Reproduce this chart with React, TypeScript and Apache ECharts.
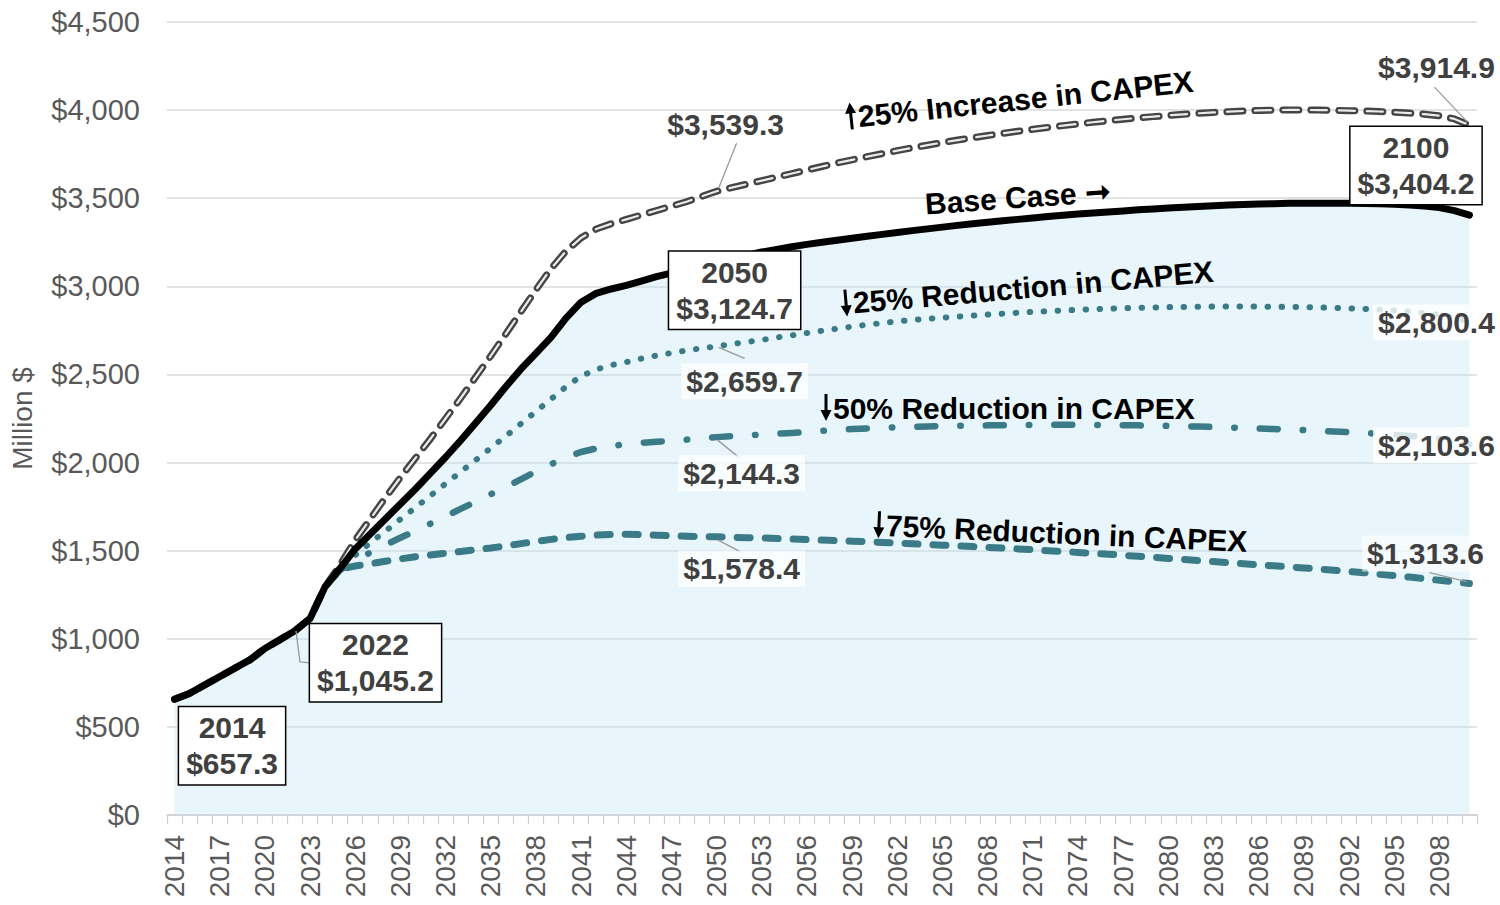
import React, { useEffect, useRef } from "react";
import * as echarts from "echarts";

const years: string[] = [];
for (let y = 2014; y <= 2100; y++) years.push(String(y));

// Base Case (Million $)
const baseCase = [
  657.3, 690, 738, 785, 833, 880, 945, 995, 1045.2, 1115,
  1295, 1400, 1510, 1595, 1680, 1765, 1850, 1940, 2030, 2125,
  2225, 2325, 2430, 2530, 2620, 2710, 2820, 2910, 2960, 2985,
  3005, 3030, 3055, 3075, 3093, 3110, 3124.7, 3150, 3175, 3195,
  3210, 3225, 3238, 3250, 3262, 3273, 3284, 3295, 3306, 3316,
  3326, 3336, 3346, 3355, 3364, 3372, 3380, 3388, 3396, 3403,
  3410, 3416, 3422, 3428, 3434, 3439, 3444, 3449, 3453, 3457,
  3461, 3464, 3467, 3469, 3471, 3472, 3472, 3472, 3471, 3470,
  3468, 3466, 3462, 3456, 3447, 3430, 3404.2,
];

// 25% Increase in CAPEX
const increase25 = [
  657.3, 690, 738, 785, 833, 880, 945, 995, 1045.2, 1115,
  1295, 1420, 1560, 1680, 1800, 1915, 2025, 2135, 2250, 2365,
  2485, 2605, 2730, 2855, 2980, 3100, 3200, 3275, 3325, 3355,
  3380, 3405, 3430, 3455, 3480, 3510, 3539.3, 3560, 3580, 3600,
  3620, 3640, 3660, 3680, 3700, 3718, 3736, 3753, 3770, 3786,
  3801, 3816, 3830, 3843, 3856, 3868, 3880, 3891, 3902, 3912,
  3922, 3931, 3940, 3948, 3956, 3963, 3970, 3976, 3982, 3987,
  3991, 3995, 3998, 4000, 4001, 4001, 4000, 3999, 3997, 3995,
  3992, 3988, 3983, 3977, 3968, 3950, 3914.9,
];

// 25% Reduction in CAPEX
const reduction25 = [
  657.3, 690, 738, 785, 833, 880, 945, 995, 1045.2, 1115,
  1295, 1405, 1475, 1545, 1610, 1678, 1745, 1812, 1880, 1947,
  2014, 2082, 2150, 2220, 2290, 2360, 2430, 2490, 2528, 2553,
  2570, 2590, 2607, 2622, 2636, 2648, 2659.7, 2672, 2684, 2696,
  2710, 2722, 2735, 2748, 2760, 2771, 2782, 2792, 2801, 2809,
  2816, 2822, 2828, 2834, 2840, 2845, 2850, 2855, 2859, 2863,
  2867, 2870, 2873, 2876, 2878, 2880, 2882, 2883, 2884, 2885,
  2885, 2885, 2885, 2884, 2883, 2882, 2880, 2878, 2875, 2872,
  2868, 2863, 2857, 2849, 2838, 2822, 2800.4,
];

// 50% Reduction in CAPEX
const reduction50 = [
  657.3, 690, 738, 785, 833, 880, 945, 995, 1045.2, 1115,
  1295, 1390, 1445, 1490, 1532, 1573, 1613, 1653, 1695, 1737,
  1778, 1820, 1860, 1905, 1950, 1990, 2030, 2060, 2080, 2094,
  2104, 2112, 2118, 2123, 2130, 2137, 2144.3, 2150, 2155, 2158,
  2163, 2168, 2174, 2180, 2185, 2190, 2194, 2197, 2200, 2203,
  2205, 2207, 2209, 2210, 2211, 2212, 2213, 2214, 2214, 2214,
  2214, 2214, 2213, 2212, 2211, 2210, 2208, 2206, 2204, 2202,
  2199, 2196, 2193, 2190, 2187, 2184, 2180, 2176, 2172, 2168,
  2163, 2158, 2152, 2145, 2135, 2122, 2103.6,
];

// 75% Reduction in CAPEX
const reduction75 = [
  657.3, 690, 738, 785, 833, 880, 945, 995, 1045.2, 1115,
  1295, 1395, 1413, 1425, 1440, 1453, 1465, 1475, 1485, 1495,
  1505, 1515, 1527, 1540, 1552, 1564, 1574, 1582, 1588, 1592,
  1593, 1591, 1588, 1585, 1582, 1580, 1578.4, 1576, 1574, 1572,
  1569, 1566, 1563, 1560, 1557, 1554, 1551, 1547, 1543, 1539,
  1535, 1531, 1527, 1523, 1519, 1515, 1510, 1505, 1500, 1495,
  1490, 1485, 1480, 1474, 1468, 1462, 1456, 1450, 1444, 1438,
  1432, 1426, 1420, 1414, 1408, 1402, 1396, 1389, 1382, 1375,
  1367, 1359, 1350, 1341, 1332, 1323, 1313.6,
];

const FONT = '"Liberation Sans", Arial, Helvetica, sans-serif';
const TEAL = "#3b7b88";
const GRAY_TXT = "#595959";
const LABEL_TXT = "#404040";

const fmt = (v: number) =>
  "$" + v.toLocaleString("en-US", { minimumFractionDigits: 1, maximumFractionDigits: 1 });

export default function App() {
  const ref = useRef<HTMLDivElement>(null);

  useEffect(() => {
    if (!ref.current) return;
    const chart = echarts.init(ref.current, null, { renderer: "svg" });

    chart.setOption({
      animation: false,
      backgroundColor: "#ffffff",
      grid: {
        left: 167,
        right: 23,
        top: 22,
        bottom: 90,
        containLabel: false,
        outerBoundsMode: "none",
      },
      xAxis: {
        type: "category",
        data: years,
        boundaryGap: true,
        axisLine: { show: true, lineStyle: { color: "#cfcfcf", width: 1.5 } },
        axisTick: { show: true, interval: 0, length: 9, lineStyle: { color: "#cfcfcf", width: 1.2 } },
        axisLabel: {
          interval: 2,
          rotate: 90,
          margin: 20,
          fontSize: 28,
          fontFamily: FONT,
          color: GRAY_TXT,
        },
        splitLine: { show: false },
      },
      yAxis: {
        type: "value",
        min: 0,
        max: 4500,
        interval: 500,
        name: "Million $",
        nameLocation: "middle",
        nameRotate: 90,
        nameGap: 131,
        nameTextStyle: { fontSize: 28, fontFamily: FONT, color: GRAY_TXT },
        axisLine: { show: false },
        axisTick: { show: false },
        axisLabel: {
          margin: 27,
          fontSize: 29,
          fontFamily: FONT,
          color: GRAY_TXT,
          formatter: (v: number) => "$" + v.toLocaleString("en-US"),
        },
        splitLine: { show: true, lineStyle: { color: "#d9d9d9", width: 1.5 } },
      },
      series: [
        {
          name: "area",
          type: "line",
          data: baseCase,
          symbol: "none",
          silent: true,
          lineStyle: { width: 0, opacity: 0 },
          areaStyle: { color: "rgba(196,232,247,0.55)" },
          z: 1,
        },
        {
          name: "75% Reduction in CAPEX",
          type: "line",
          data: reduction75,
          symbol: "none",
          lineStyle: { color: TEAL, width: 7, type: [13, 15], cap: "round", join: "round" },
          z: 3,
        },
        {
          name: "50% Reduction in CAPEX",
          type: "line",
          data: reduction50,
          symbol: "none",
          lineStyle: { color: TEAL, width: 6.5, type: [18, 25, 0.5, 25], cap: "round", join: "round" },
          z: 3,
        },
        {
          name: "25% Reduction in CAPEX",
          type: "line",
          data: reduction25,
          symbol: "none",
          lineStyle: { color: TEAL, width: 6, type: [0.5, 13.5], cap: "round", join: "round" },
          z: 3,
        },
        {
          name: "25% Increase in CAPEX",
          type: "line",
          data: increase25,
          symbol: "none",
          lineStyle: { color: "#454545", width: 7, type: [16, 12], cap: "round", join: "round" },
          z: 3,
        },
        {
          name: "25% Increase in CAPEX inner",
          type: "line",
          data: increase25,
          symbol: "none",
          silent: true,
          lineStyle: { color: "#ececec", width: 2.2, type: [16, 12], cap: "round", join: "round" },
          z: 4,
        },
        {
          name: "Base Case",
          type: "line",
          data: baseCase,
          symbol: "none",
          lineStyle: { color: "#000000", width: 7, cap: "round", join: "round" },
          z: 5,
        },
      ],
    });

    const idx = (year: number) => year - 2014;
    const px = (year: number, v: number) =>
      chart.convertToPixel({ gridIndex: 0 }, [idx(year), v]) as number[];

    const graphics: any[] = [];

    const boxLabel = (year: number, arr: number[], dx: number, dy: number) => {
      const v = arr[idx(year)];
      const [x, y] = px(year, v);
      graphics.push({
        type: "text",
        x: x + dx,
        y: y + dy,
        z: 100,
        style: {
          text: `${year}\n${fmt(v)}`,
          fontSize: 30,
          fontWeight: "bold",
          fontFamily: FONT,
          fill: LABEL_TXT,
          align: "center",
          verticalAlign: "middle",
          lineHeight: 36,
          backgroundColor: "#ffffff",
          borderColor: "#000000",
          borderWidth: 1.5,
          padding: [3, 7, 2, 7],
        },
      });
    };

    const valueLabel = (
      year: number,
      arr: number[],
      dx: number,
      dy: number,
      bg: string | null,
      leader?: number[][]
    ) => {
      const v = arr[idx(year)];
      const [x, y] = px(year, v);
      if (leader) {
        graphics.push({
          type: "polyline",
          z: 90,
          shape: { points: leader.map((p) => [x + p[0], y + p[1]]) },
          style: { stroke: "#9a9a9a", lineWidth: 1.3, fill: null },
        });
      }
      graphics.push({
        type: "text",
        x: x + dx,
        y: y + dy,
        z: 100,
        style: {
          text: fmt(v),
          fontSize: 30,
          fontWeight: "bold",
          fontFamily: FONT,
          fill: LABEL_TXT,
          align: "center",
          verticalAlign: "middle",
          backgroundColor: bg || "transparent",
          padding: [3, 5],
        },
      });
    };

    // boxed labels on base case
    boxLabel(2014, baseCase, 57.5, 46.5);
    const [x22, y22] = px(2022, baseCase[idx(2022)]);
    graphics.push({
      type: "polyline",
      z: 90,
      shape: { points: [[x22 + 1, y22], [x22 + 5, y22 + 31], [x22 + 15, y22 + 32]] },
      style: { stroke: "#9a9a9a", lineWidth: 1.3, fill: null },
    });
    boxLabel(2022, baseCase, 80.5, 32);
    boxLabel(2050, baseCase, 18, 26);
    boxLabel(2100, baseCase, -53.5, -49.5);

    // value labels
    valueLabel(2050, increase25, 9, -67, null, [[2, -3], [20, -48]]);
    valueLabel(2050, reduction25, 28, 35, "rgba(255,255,255,0.75)", [[2, 1], [28, 12]]);
    valueLabel(2050, reduction50, 25, 36, "rgba(255,255,255,0.75)", [[1, 3], [22, 20]]);
    valueLabel(2050, reduction75, 25, 32, "rgba(255,255,255,0.75)", [[1, 3], [24, 15]]);
    valueLabel(2100, increase25, -33, -58, null, [[-2, -3], [-35, -38]]);
    valueLabel(2100, reduction25, -33, 1, "rgba(255,255,255,0.8)");
    valueLabel(2100, reduction50, -33, 1, "rgba(255,255,255,0.8)");
    valueLabel(2100, reduction75, -44, -30, "rgba(255,255,255,0.6)", [[-3, -2], [-40, -11]]);

    // series annotations (rotated), with drawn arrows
    const deg = Math.PI / 180;
    const note = (text: string, x: number, y: number, rotDeg: number, arrow: "up" | "down" | null) => {
      const children: any[] = [];
      let tx = 0;
      if (arrow) {
        const head =
          arrow === "down"
            ? [[-5.5, 3], [5.5, 3], [0, 14]]
            : [[-5.5, -3], [5.5, -3], [0, -14]];
        const shaft = arrow === "down" ? { x1: 0, y1: -13, x2: 0, y2: 5 } : { x1: 0, y1: 13, x2: 0, y2: -5 };
        children.push({
          type: "line",
          x: 6,
          z: 110,
          shape: shaft,
          style: { stroke: "#000", lineWidth: 3 },
        });
        children.push({
          type: "polygon",
          x: 6,
          z: 110,
          shape: { points: head },
          style: { fill: "#000" },
        });
        tx = 13;
      }
      children.push({
        type: "text",
        x: tx,
        y: 1,
        z: 110,
        style: {
          text,
          fontSize: 30,
          fontWeight: "bold",
          fontFamily: FONT,
          fill: "#000000",
          align: "left",
          verticalAlign: "middle",
        },
      });
      graphics.push({
        type: "group",
        x,
        y,
        rotation: rotDeg * deg,
        z: 110,
        children,
      });
    };
    note("25% Increase in CAPEX", 845, 117, 6, "up");
    note("Base Case \u279E", 925, 203, 4, null);
    note("25% Reduction in CAPEX", 840, 303, 5, "down");
    note("50% Reduction in CAPEX", 820, 407, 0, "down");
    note("75% Reduction in CAPEX", 873, 524, -2.5, "down");

    chart.setOption({ graphic: graphics });

    return () => chart.dispose();
  }, []);

  return (
    <div
      ref={ref}
      style={{ position: "fixed", left: 0, top: 0, width: 1500, height: 905, background: "#fff" }}
    />
  );
}
